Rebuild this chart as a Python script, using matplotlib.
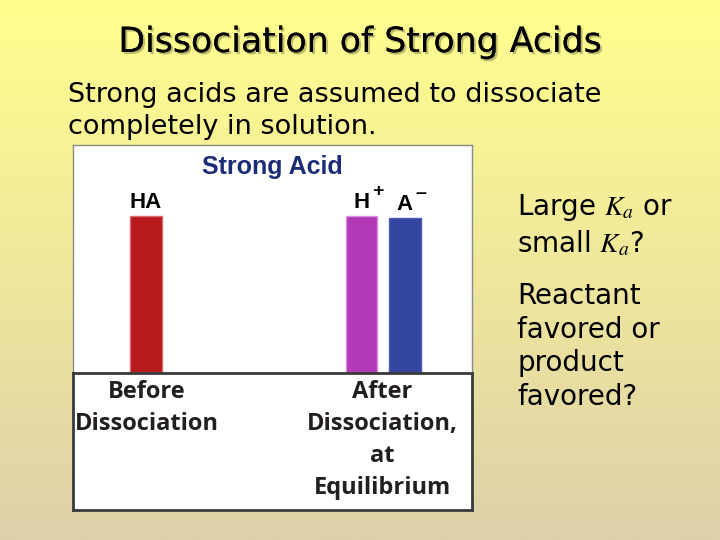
import numpy as np
import matplotlib.pyplot as plt
from matplotlib import patheffects

plt.rcParams['font.family'] = ['DejaVu Sans']

# data
species = ['HA', 'H', 'A']
charges = ['', '+', '\u2013']
concentration = [1.0, 1.0, 0.99]
stages = ['Before\nDissociation', 'After\nDissociation,\nat\nEquilibrium']

bar_colors = ['#b8191c', '#b23ab6', '#3446a0']
edge_colors = ['#d96a70', '#d98ee0', '#4a5db0']
bar_x = [1.83, 7.23, 8.32]
stage_x = [1.85, 7.75]

W, H = 720, 540
fig = plt.figure(figsize=(7.2, 5.4), dpi=100)


def fx(x):
    return x / W


def fy(y):
    return 1 - y / H


# slide background gradient
bg = fig.add_axes([0, 0, 1, 1])
t = np.linspace(0, 1, 256)[:, None, None]
top = np.array([255, 255, 142]) / 255
bot = np.array([222, 208, 170]) / 255
bg.imshow(top + (bot - top) * t * np.ones((1, 2, 1)), aspect='auto', extent=[0, 1, 0, 1])
bg.set_xlim(0, 1); bg.set_ylim(0, 1)
bg.axis('off')

shadow = [patheffects.withSimplePatchShadow(offset=(1.5, -1.5), alpha=0.25), patheffects.Normal()]
fig.text(0.5, fy(42), 'Dissociation of Strong Acids', ha='center', va='center',
         fontsize=25, color='black', path_effects=shadow)
fig.text(fx(68), fy(82), 'Strong acids are assumed to dissociate\ncompletely in solution.',
         ha='left', va='top', fontsize=19.5, linespacing=1.32, color='black')

# bar chart panel
ax = fig.add_axes([fx(73), fy(373), 399 / W, 228 / H])
ax.set_xlim(0, 10)
ax.set_ylim(0, 1.452)
ax.bar(bar_x, concentration, width=0.8, color=bar_colors, edgecolor=edge_colors, linewidth=1)
for x, s, c, h in zip(bar_x, species, charges, concentration):
    ax.annotate(s, xy=(x, h), xytext=(0, 3), textcoords='offset pixels', ha='center', va='bottom',
                fontsize=16, fontweight='bold', family='Liberation Sans')
    if c:
        ax.annotate(c, xy=(x, h), xytext=(16, 16), textcoords='offset pixels', ha='center', va='bottom',
                    fontsize=14, fontweight='bold', family='Liberation Sans')
ax.text(5.0, 1.31, 'Strong Acid', ha='center', va='center', fontsize=18, fontweight='bold',
        family='Liberation Sans', color='#1c2d78')
ax.set_xticks([]); ax.set_yticks([])
for sp in ax.spines.values():
    sp.set_color('#8a8a8a'); sp.set_linewidth(1)

# label box under the bars
ax2 = fig.add_axes([fx(73), fy(510), 399 / W, 137 / H])
ax2.set_xlim(0, 10); ax2.set_ylim(0, 1)
ax2.set_xticks([]); ax2.set_yticks([])
for sp in ax2.spines.values():
    sp.set_color('#3a3a3a'); sp.set_linewidth(2)
for x, s in zip(stage_x, stages):
    ax2.text(x, 0.95, s, ha='center', va='top', fontsize=17, fontweight='bold',
             family='Open Sans', color='#231f20', linespacing=1.45)

# questions
qkw = dict(ha='left', va='top', fontsize=20, linespacing=1.26, color='black', math_fontfamily='stix')
fig.text(fx(517), fy(192), 'Large $K_a$ or\nsmall $K_a$?', **qkw)
fig.text(fx(517), fy(282), 'Reactant\nfavored or\nproduct\nfavored?', **qkw)

fig.savefig('out.png', dpi=100)
